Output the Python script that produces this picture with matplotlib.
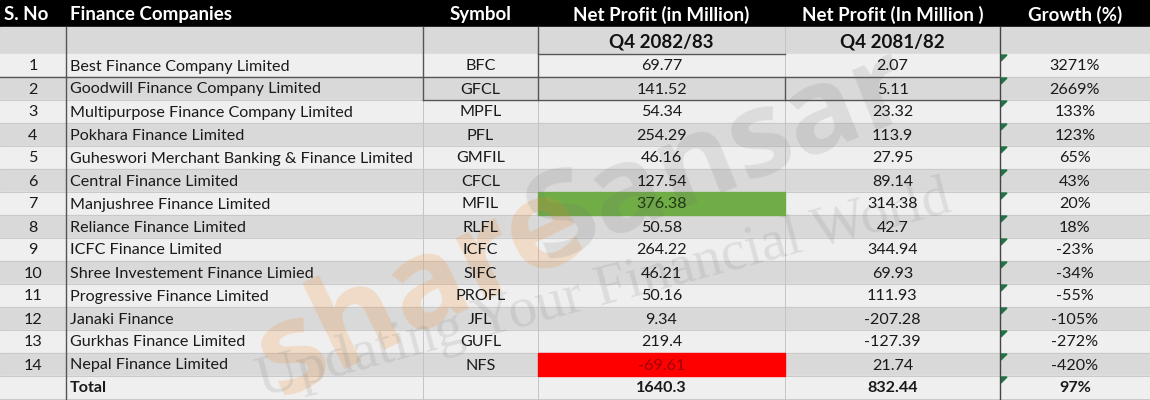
import matplotlib
matplotlib.use("Agg")
import matplotlib.pyplot as plt
from matplotlib.patches import Rectangle, Polygon

# table content
sno = [str(i) for i in range(1, 15)]
companies = [
    "Best Finance Company Limited",
    "Goodwill Finance Company Limited",
    "Multipurpose Finance Company Limited",
    "Pokhara Finance Limited",
    "Guheswori Merchant Banking & Finance Limited",
    "Central Finance Limited",
    "Manjushree Finance Limited",
    "Reliance Finance Limited",
    "ICFC Finance Limited",
    "Shree Investement Finance Limied",
    "Progressive Finance Limited",
    "Janaki Finance",
    "Gurkhas Finance Limited",
    "Nepal Finance Limited",
]
symbols = ["BFC", "GFCL", "MPFL", "PFL", "GMFIL", "CFCL", "MFIL", "RLFL",
           "ICFC", "SIFC", "PROFL", "JFL", "GUFL", "NFS"]
profit_8283 = ["69.77", "141.52", "54.34", "254.29", "46.16", "127.54", "376.38",
               "50.58", "264.22", "46.21", "50.16", "9.34", "219.4", "-69.61"]
profit_8182 = ["2.07", "5.11", "23.32", "113.9", "27.95", "89.14", "314.38",
               "42.7", "344.94", "69.93", "111.93", "-207.28", "-127.39", "21.74"]
growth = ["3271%", "2669%", "133%", "123%", "65%", "43%", "20%", "18%",
          "-23%", "-34%", "-55%", "-105%", "-272%", "-420%"]
total_row = ["", "Total", "", "1640.3", "832.44", "97%"]

headers = ["S. No", "Finance Companies", "Symbol", "Net Profit (in Million)",
           "Net Profit (In Million )", "Growth (%)"]
sub_headers = ["", "", "", "Q4 2082/83", "Q4 2081/82", ""]

# highlighted cells: (row, col) -> (fill, text colour)
highlights = {(6, 3): ("#70AD47", "#1F3B10"), (13, 3): ("#FF0000", "#9C0006")}

# layout in pixels
W, H = 1150, 400
col_edges = [0, 66, 423, 538, 785, 1000, 1150]
head_h, sub_h, row_h = 27, 27, 23
light, dark = "#EFEFEF", "#D9D9D9"
FONT = "Lato"
BODY_FS = 11.6
HEAD_FS = 13.5

fig = plt.figure(figsize=(W / 100, H / 100), dpi=100)
ax = fig.add_axes([0, 0, 1, 1])
ax.set_xlim(0, W)
ax.set_ylim(H, 0)
ax.axis("off")
fig.patch.set_facecolor("white")


def cell_x(c, align):
    x0, x1 = col_edges[c], col_edges[c + 1]
    if align == "left":
        return x0 + 4
    return (x0 + x1) / 2


aligns = ["center", "left", "center", "center", "center", "center"]

# header
ax.add_patch(Rectangle((0, 0), W, head_h, color="black", zorder=1))
for c, h in enumerate(headers):
    al = "left" if c < 2 else "center"
    x = 4 if c == 0 else cell_x(c, al)
    ax.text(x, head_h / 2 + 1, h, ha=al, va="center", color="white",
            fontsize=HEAD_FS, fontweight="bold", family=FONT, zorder=5)

# sub header
ax.add_patch(Rectangle((0, head_h), W, sub_h, color=dark, zorder=1))
for c, s in enumerate(sub_headers):
    if s:
        ax.text(cell_x(c, "center"), head_h + sub_h / 2 + 1, s, ha="center",
                va="center", fontsize=HEAD_FS, fontweight="bold", family=FONT,
                color="#111111", zorder=5)

# body rows
rows = [[sno[i], companies[i], symbols[i], profit_8283[i], profit_8182[i], growth[i]]
        for i in range(len(sno))]
rows.append(total_row)
top = head_h + sub_h
for r, vals in enumerate(rows):
    y0 = top + r * row_h
    bg = light if r % 2 == 0 else dark
    ax.add_patch(Rectangle((0, y0), W, row_h, color=bg, zorder=1))
    ax.plot([0, W], [y0 + row_h, y0 + row_h], color="#C9C9C9", lw=0.7, zorder=2)
    bold = r == len(rows) - 1
    for c, v in enumerate(vals):
        tc = "#1A1A1A"
        if (r, c) in highlights:
            fill, tc = highlights[(r, c)]
            ax.add_patch(Rectangle((col_edges[c], y0), col_edges[c + 1] - col_edges[c],
                                   row_h, color=fill, zorder=3))
        if v:
            ax.text(cell_x(c, aligns[c]), y0 + row_h / 2 + 1, v, ha=aligns[c],
                    va="center", fontsize=BODY_FS, family=FONT, color=tc,
                    fontweight="bold" if bold else "normal", zorder=5)
    # little green error flags in the growth column
    gx = col_edges[5]
    ax.add_patch(Polygon([[gx + 1, y0 + 1], [gx + 7, y0 + 1], [gx + 1, y0 + 7]],
                         closed=True, color="#217346", zorder=4))

# vertical grid lines
bottom = top + len(rows) * row_h
for x in col_edges[1:-1]:
    ax.plot([x, x], [head_h, bottom], color="#C4C4C4", lw=0.7, zorder=2)
ax.plot([66, 66], [head_h, bottom], color="#555555", lw=1.0, zorder=4)
ax.plot([1000, 1000], [head_h, bottom], color="#444444", lw=1.0, zorder=4)
for x in (423, 538):
    ax.plot([x, x], [head_h, top + 2 * row_h], color="#555555", lw=1.0, zorder=4)
ax.plot([785, 785], [top + row_h, top + 2 * row_h], color="#555555", lw=1.0, zorder=4)
ax.plot([538, 785], [top, top], color="#555555", lw=1.0, zorder=4)
ax.plot([0, 1000], [top + row_h, top + row_h], color="#555555", lw=1.0, zorder=4)
ax.plot([423, 1000], [top + 2 * row_h, top + 2 * row_h], color="#555555", lw=1.0, zorder=4)

# watermark
ax.text(280, 398, "share", rotation=26, rotation_mode="anchor", ha="left",
        va="baseline", fontsize=90, fontweight="bold", family="Open Sans",
        color="#F08A24", alpha=0.2, zorder=4)
ax.text(545, 262, "Sansar", rotation=22, rotation_mode="anchor", ha="left",
        va="baseline", fontsize=86, fontweight="bold", family="Open Sans",
        color="#707070", alpha=0.15, zorder=4)
ax.text(262, 396, "Updating Your Financial World", rotation=15,
        rotation_mode="anchor", ha="left", va="baseline", fontsize=41,
        family="Liberation Serif", color="#808080", alpha=0.17, zorder=4)

fig.savefig("out.png", dpi=100)
